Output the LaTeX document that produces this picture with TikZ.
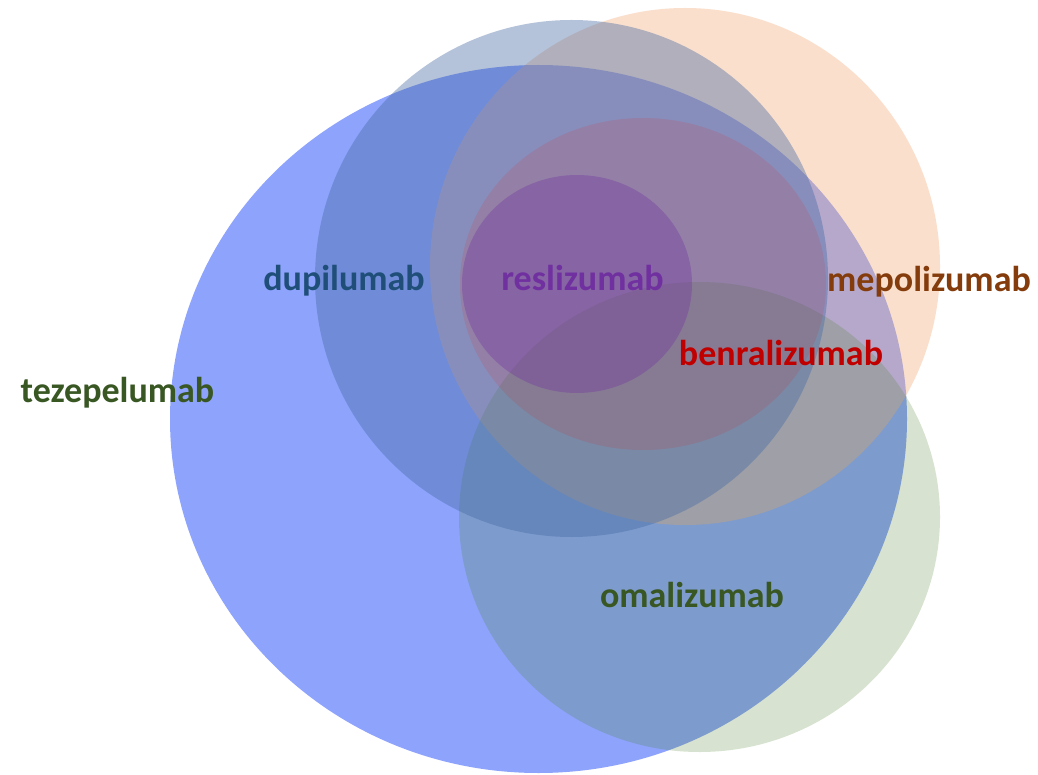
\documentclass[tikz,border=0pt]{standalone}
\usepackage{fontspec}
\setmainfont{Carlito}
\usetikzlibrary{shapes.geometric}
\definecolor{cteze}{RGB}{68,102,250}
\definecolor{cmep}{RGB}{244,177,131}
\definecolor{comal}{RGB}{73,128,41}
\definecolor{cdup}{RGB}{68,105,163}
\definecolor{cbenra}{RGB}{255,0,0}
\definecolor{cresl}{RGB}{112,48,160}
\definecolor{tgreen}{RGB}{56,87,35}
\definecolor{tblue}{RGB}{31,78,121}
\definecolor{tpurple}{RGB}{112,48,160}
\definecolor{tbrown}{RGB}{132,60,12}
\definecolor{tred}{RGB}{192,0,0}
\tikzset{
  set/.style={ellipse, draw=none, inner sep=0pt, outer sep=0pt},
  lbl/.style={anchor=base, inner sep=0pt, font=\fontsize{36}{42}\selectfont\bfseries}
}
\begin{document}
\begin{tikzpicture}[x=1pt,y=-1pt]
\useasboundingbox[fill=white] (0,0) rectangle (1038,775);
\node[set, fill=cteze, fill opacity=0.6, minimum width=737pt, minimum height=708pt] (teze) at (538.5,419) {};
\node[set, fill=cmep, fill opacity=0.4, minimum width=510pt, minimum height=517pt] (mep) at (685,266.5) {};
\node[set, fill=comal, fill opacity=0.22, minimum width=481pt, minimum height=470pt] (omal) at (699.5,517) {};
\node[set, fill=cdup, fill opacity=0.4, minimum width=513pt, minimum height=517pt] (dup) at (571.5,278.5) {};
\node[set, fill=cbenra, fill opacity=0.1, minimum width=366pt, minimum height=332pt] (benra) at (643,284) {};
\node[set, fill=cresl, fill opacity=0.34, minimum width=230pt, minimum height=218pt] (resl) at (577,284) {};
\node[lbl, text=tgreen] (lteze) at (117.5,402) {tezepelumab};
\node[lbl, text=tblue] (ldup) at (344,291) {dupilumab};
\node[lbl, text=tpurple] (lresl) at (582.5,291) {reslizumab};
\node[lbl, text=tbrown] (lmep) at (929,291.5) {mepolizumab};
\node[lbl, text=tred] (lbenra) at (781,365) {benralizumab};
\node[lbl, text=tgreen] (lomal) at (692,607) {omalizumab};
\end{tikzpicture}
\end{document}
